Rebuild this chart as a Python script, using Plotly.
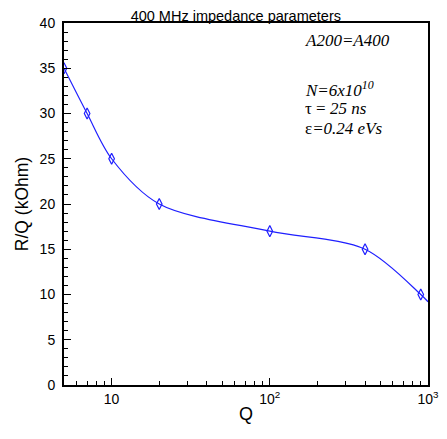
import plotly.graph_objects as go

# R/Q versus Q
q_points = [5, 7, 10, 20, 100, 400, 900]
rq_points = [35, 30, 25, 20, 17, 15, 10]

# the fitted curve runs on to the right edge of the frame
q_curve = [5, 7, 10, 20, 100, 400, 900, 1000]
rq_curve = [35, 30, 25, 20, 17, 15, 10, 9.2]

x_ticks = [10, 100, 1000]
x_ticktext = ["10", "10<sup>2</sup>", "10<sup>3</sup>"]
x_minor = [6, 7, 8, 9, 20, 30, 40, 50, 60, 70, 80, 90,
           200, 300, 400, 500, 600, 700, 800, 900]

blue = "#1f1fff"

# the page body adds 8px at the top-left of the figure
W, H = 439, 423
L, R, T, B = 56, 19, 15, 46

fig = go.Figure()
fig.add_trace(go.Scatter(
    x=q_curve, y=rq_curve, mode="lines",
    line=dict(color=blue, width=1.2, shape="spline", smoothing=0.9),
    showlegend=False, hoverinfo="skip"
))
fig.add_trace(go.Scatter(
    x=q_points, y=rq_points, mode="markers",
    marker=dict(symbol="diamond-tall-open", size=8, color=blue, line=dict(width=1.2)),
    showlegend=False
))

serif = "Liberation Serif"
notes = [
    ("<i>A200=A400</i>", 41),
    ("<i>N=6x10<sup>10</sup></i>", 89),
    ("τ = <i>25 ns</i>", 108),
    ("ε<i>=0.24 eVs</i>", 128),
]
for txt, ypx in notes:
    fig.add_annotation(
        text=txt, xref="paper", yref="paper",
        x=(303 - 64) / 364, y=(385 - ypx) / 362,
        xanchor="left", yanchor="middle", showarrow=False,
        font=dict(family=serif, size=17, color="black")
    )

fig.update_layout(
    width=W, height=H,
    margin=dict(l=L, r=R, t=T, b=B, autoexpand=False),
    paper_bgcolor="white", plot_bgcolor="white",
    font=dict(family="Liberation Sans", color="black"),
    title=dict(text="400 MHz impedance parameters", x=0.472, xref="paper",
               xanchor="center", y=0.994, yref="container", yanchor="top",
               pad=dict(t=0, b=0), font=dict(size=14.5)),
)
fig.update_xaxes(
    type="log", range=[0.699, 3], automargin=False,
    tickvals=x_ticks, ticktext=x_ticktext, ticklabeloverflow="allow",
    ticks="inside", ticklen=7, tickwidth=1, tickcolor="black",
    minor=dict(tickvals=x_minor, ticks="inside", ticklen=4, tickcolor="black"),
    showline=True, linecolor="black", linewidth=2, mirror=True,
    showgrid=False, zeroline=False,
    tickfont=dict(size=14),
    title=dict(text="Q", font=dict(size=18), standoff=2),
)
fig.update_yaxes(
    range=[0, 40], dtick=5, automargin=False,
    ticks="inside", ticklen=7, tickwidth=1, tickcolor="black",
    minor=dict(dtick=1, ticks="inside", ticklen=4, tickcolor="black"),
    showline=True, linecolor="black", linewidth=2, mirror=True,
    showgrid=False, zeroline=False,
    tickfont=dict(size=14), ticklabelstandoff=4,
    title=dict(text="R/Q (kOhm)", font=dict(size=17.5), standoff=6),
)

fig.write_html("out.html")
